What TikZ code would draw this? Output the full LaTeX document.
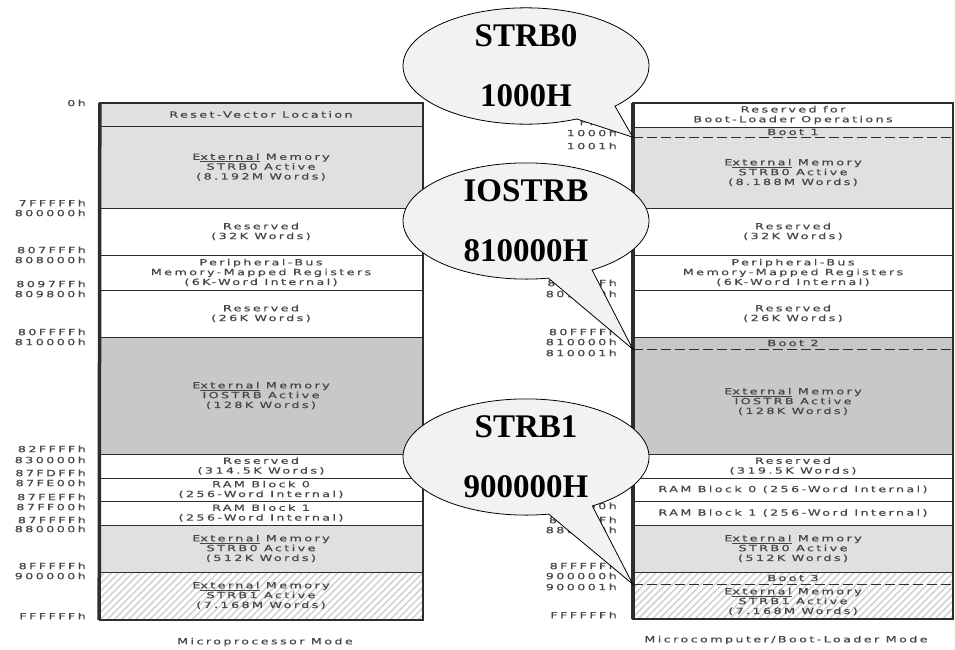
\documentclass[tikz,border=0pt]{standalone}
\usepackage{fontspec}
\usepackage{xcolor}
\usepackage{tikz}
\usetikzlibrary{shapes.callouts, patterns.meta}
\newfontfamily\mapfont[FakeStretch=1.5,LetterSpace=28,FakeBold=0.6]{DejaVu Sans}
\newfontfamily\callfont{Liberation Serif}
\definecolor{FrameGray}{RGB}{45, 45, 45}
\definecolor{TextGray}{RGB}{70, 70, 70}
\definecolor{ExtGray}{RGB}{224, 224, 224}
\definecolor{IoGray}{RGB}{200, 200, 200}
\definecolor{BubbleFill}{RGB}{242, 242, 242}

\begin{document}
\begin{tikzpicture}[
    x=1pt, y=-1pt,
    region/.style={
      rectangle, inner sep=0pt, minimum width=322pt,
      text=TextGray, align=center,
      font=\mapfont\fontsize{8.5}{9.8}\selectfont
    },
    rregion/.style={region, minimum width=320pt},
    ext/.style={fill=ExtGray},
    io/.style={fill=IoGray},
    hatch/.style={pattern={Lines[angle=45, distance=5pt, line width=1.6pt]}, pattern color=gray!35},
    addr/.style={anchor=east, inner sep=0pt, text=TextGray, font=\mapfont\fontsize{8.5}{9.8}\selectfont},
    divider/.style={draw=FrameGray, line width=1.2pt},
    bootline/.style={draw=FrameGray, line width=1.2pt, dash pattern=on 10pt off 4pt},
    frame/.style={draw=FrameGray, line width=2pt},
    spine/.style={draw=FrameGray, line width=3.5pt},
    bubble/.style={
      ellipse callout, draw=black, fill=BubbleFill, line width=0.8pt,
      minimum width=246pt, minimum height=114pt, inner sep=0pt,
      callout pointer arc=22, align=center,
      font=\callfont\bfseries\fontsize{33}{60}\selectfont
    },
    caption/.style={inner sep=0pt, text=TextGray, font=\mapfont\fontsize{8.5}{9.8}\selectfont}
  ]
    \useasboundingbox (0,0) rectangle (955,649);

    % microprocessor mode
    \node[region, ext, minimum height=23pt]  (lreset)  at (261,114.5) {Reset-Vector Location};
    \node[region, ext, minimum height=82pt]  (lext0)   at (261,167)   {E\underline{xternal} Memory\\STRB0 Active\\(8.192M Words)};
    \node[region, minimum height=47pt]       (lres32)  at (261,231.5) {Reserved\\(32K Words)};
    \node[region, minimum height=35pt]       (lperi)   at (261,272.5) {Peripheral-Bus\\Memory-Mapped Registers\\(6K-Word Internal)};
    \node[region, minimum height=47pt]       (lres26)  at (261,313.5) {Reserved\\(26K Words)};
    \node[region, io, minimum height=117pt]  (lio)     at (261,395.5) {E\underline{xternal} Memory\\IOSTRB Active\\(128K Words)};
    \node[region, minimum height=24pt]       (lres314) at (261,466)   {Reserved\\(314.5K Words)};
    \node[region, minimum height=23pt]       (lram0)   at (261,489.5) {RAM Block 0\\(256-Word Internal)};
    \node[region, minimum height=24pt]       (lram1)   at (261,513)   {RAM Block 1\\(256-Word Internal)};
    \node[region, ext, minimum height=47pt]  (lext0b)  at (261,548.5) {E\underline{xternal} Memory\\STRB0 Active\\(512K Words)};
    \node[region, hatch, minimum height=47pt] (lext1)  at (261,595.5) {E\underline{xternal} Memory\\STRB1 Active\\(7.168M Words)};

    % microcomputer / boot-loader mode
    \node[rregion, minimum height=24pt]       (rres)    at (793,115)   {Reserved for\\Boot-Loader Operations};
    \node[rregion, ext, minimum height=10pt]  (rboot1)  at (793,132)   {Boot 1};
    \node[rregion, ext, minimum height=71pt]  (rext0)   at (793,172.5) {E\underline{xternal} Memory\\STRB0 Active\\(8.188M Words)};
    \node[rregion, minimum height=47pt]       (rres32)  at (793,231.5) {Reserved\\(32K Words)};
    \node[rregion, minimum height=35pt]       (rperi)   at (793,272.5) {Peripheral-Bus\\Memory-Mapped Registers\\(6K-Word Internal)};
    \node[rregion, minimum height=47pt]       (rres26)  at (793,313.5) {Reserved\\(26K Words)};
    \node[rregion, io, minimum height=12pt]   (rboot2)  at (793,343)   {Boot 2};
    \node[rregion, io, minimum height=105pt]  (rio)     at (793,401.5) {E\underline{xternal} Memory\\IOSTRB Active\\(128K Words)};
    \node[rregion, minimum height=24pt]       (rres319) at (793,466)   {Reserved\\(319.5K Words)};
    \node[rregion, minimum height=23pt]       (rram0)   at (793,489.5) {RAM Block 0 (256-Word Internal)};
    \node[rregion, minimum height=24pt]       (rram1)   at (793,513)   {RAM Block 1 (256-Word Internal)};
    \node[rregion, ext, minimum height=47pt]  (rext0b)  at (793,548.5) {E\underline{xternal} Memory\\STRB0 Active\\(512K Words)};
    \node[rregion, hatch, minimum height=12pt] (rboot3) at (793,578)   {Boot 3};
    \node[rregion, hatch, minimum height=35pt] (rext1)  at (793,601.5) {E\underline{xternal} Memory\\STRB1 Active\\(7.168M Words)};

    % row borders
    \foreach \n in {lreset,lext0,lres32,lperi,lres26,lio,lres314,lram0,lram1,lext0b,
                    rres,rext0,rres32,rperi,rres26,rio,rres319,rram0,rram1,rext0b}
      \draw[divider] (\n.south west) -- (\n.south east);
    \foreach \n in {rboot1,rboot2,rboot3}
      \draw[bootline] (\n.south west) -- (\n.south east);

    \draw[frame] (lreset.north west) rectangle (lext1.south east);
    \draw[spine] (lreset.north west) -- (lext1.south west);
    \draw[frame] (rres.north west) rectangle (rext1.south east);
    \draw[spine] (rres.north west) -- (rext1.south west);

    % addresses
    \foreach \addr/\ypos [count=\i] in {0h/103, 7FFFFFh/203, 800000h/213, 807FFFh/250, 808000h/260,
        8097FFh/284, 809800h/294, 80FFFFh/332, 810000h/342, 82FFFFh/449, 830000h/460,
        87FDFFh/473, 87FE00h/483, 87FEFFh/497, 87FF00h/507, 87FFFFh/520, 880000h/529,
        8FFFFFh/566, 900000h/576, FFFFFFh/616}
      \node[addr] (la\i) at (86,\ypos) {\addr};
    \foreach \addr/\ypos [count=\i] in {FFFh/122, 1000h/133, 1001h/146, 8097FFh/283, 809800h/294,
        80FFFFh/332, 810000h/342, 810001h/353, 87FF00h/506, 87FFFFh/520, 880000h/530,
        8FFFFFh/566, 900000h/576, 900001h/587, FFFFFFh/615}
      \node[addr] (ra\i) at (617,\ypos) {\addr};

    % callouts
    \node[bubble, callout absolute pointer={(rboot1.south west)}] (bub0) at (526,66)  {STRB0\\1000H};
    \node[bubble, callout absolute pointer={(rboot2.south west)}] (bub1) at (526,221) {IOSTRB\\810000H};
    \node[bubble, callout absolute pointer={(rboot3.south west)}] (bub2) at (526,457) {STRB1\\900000H};

    \node[caption] (lcap) at (265,642) {Microprocessor Mode};
    \node[caption] (rcap) at (786,640) {Microcomputer/Boot-Loader Mode};
\end{tikzpicture}
\end{document}
